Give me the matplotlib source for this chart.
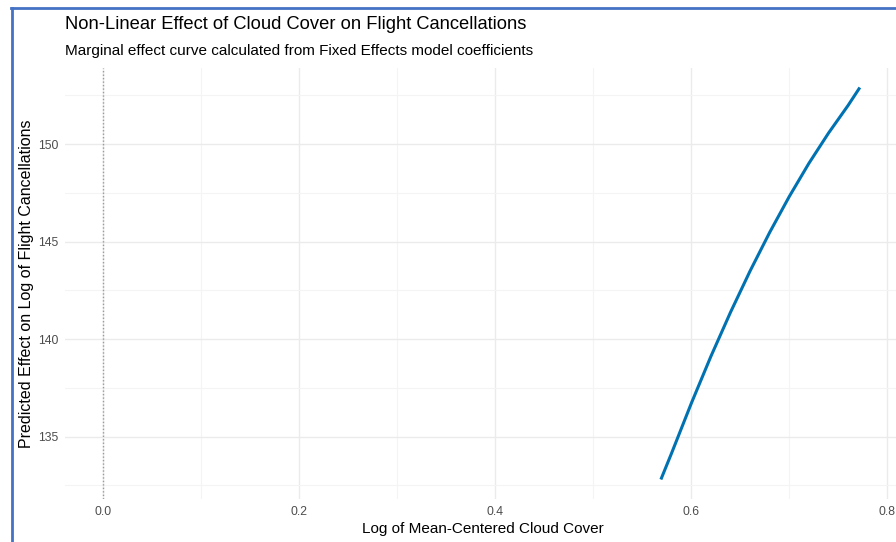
import numpy as np
import matplotlib.pyplot as plt
from matplotlib.lines import Line2D
from matplotlib.ticker import MultipleLocator

plt.rcParams['font.family'] = ['Liberation Sans', 'DejaVu Sans']

# marginal effect curve (log cloud cover vs predicted effect)
cloud_log = [0.569, 0.58, 0.60, 0.62, 0.64, 0.66, 0.68, 0.70, 0.72, 0.74, 0.76, 0.772]
effect = [132.8, 134.16, 136.70, 139.11, 141.37, 143.49, 145.47, 147.31,
          149.01, 150.56, 151.98, 152.9]
x_ticks = [0.0, 0.2, 0.4, 0.6, 0.8]
y_ticks = [135, 140, 145, 150]

fig = plt.figure(figsize=(8.96, 5.42), dpi=100)
ax = fig.add_axes([65 / 896, 1 - 499 / 542, (901 - 65) / 896, (499 - 68) / 542])

grid_major = '#ebebeb'
grid_minor = '#f4f4f4'
ax.set_facecolor('white')
for s in ax.spines.values():
    s.set_visible(False)

ax.set_xlim(-0.039, 0.814)
ax.set_ylim(131.8, 153.9)
ax.set_xticks(x_ticks)
ax.set_yticks(y_ticks)
ax.xaxis.set_minor_locator(MultipleLocator(0.1))
ax.yaxis.set_minor_locator(MultipleLocator(2.5))
ax.grid(which='major', color=grid_major, lw=1.0)
ax.grid(which='minor', color=grid_minor, lw=0.8)
ax.set_axisbelow(True)
ax.tick_params(which='both', length=0)
ax.tick_params(labelsize=8.8, labelcolor='#4d4d4d', pad=5)
ax.set_xticklabels(['0.0', '0.2', '0.4', '0.6', '0.8'])

ax.axvline(0, color='#9a9a9a', lw=1.0, ls=(0, (1, 1.5)))
ax.plot(cloud_log, effect, color='#0072b2', lw=2.2, solid_capstyle='butt')

ax.set_xlabel('Log of Mean-Centered Cloud Cover', fontsize=11, labelpad=3)
ax.set_ylabel('Predicted Effect on Log of Flight Cancellations', fontsize=11.5, labelpad=3)

fig.text(65 / 896, 1 - 29 / 542, 'Non-Linear Effect of Cloud Cover on Flight Cancellations',
         fontsize=13.2, va='baseline', ha='left')
fig.text(65 / 896, 1 - 55 / 542, 'Marginal effect curve calculated from Fixed Effects model coefficients',
         fontsize=11, va='baseline', ha='left')

# screenshot frame
frame_col = '#4472c4'
fig.add_artist(Line2D([12 / 896, 12 / 896], [0, 1 - 8 / 542], color=frame_col, lw=2,
                      transform=fig.transFigure))
fig.add_artist(Line2D([11 / 896, 1], [1 - 8 / 542, 1 - 8 / 542], color=frame_col, lw=2,
                      transform=fig.transFigure))

fig.savefig('out.png', dpi=100)
